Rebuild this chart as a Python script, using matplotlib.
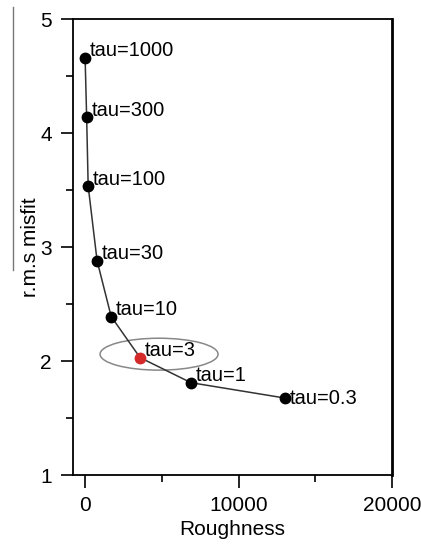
import numpy as np
import matplotlib
matplotlib.use('Agg')
import matplotlib.pyplot as plt
from matplotlib.patches import Ellipse
from matplotlib.lines import Line2D

plt.rcParams['font.family'] = ['Liberation Sans', 'DejaVu Sans']

# L-curve values
roughness = [0, 100, 200, 780, 1700, 3580, 6900, 13030]
misfit = [4.66, 4.14, 3.535, 2.88, 2.39, 2.03, 1.81, 1.675]
labels = ['tau=1000', 'tau=300', 'tau=100', 'tau=30', 'tau=10', 'tau=3', 'tau=1', 'tau=0.3']
chosen = 'tau=3'

fig = plt.figure(figsize=(4.21, 5.47), dpi=100)
ax = fig.add_axes([0.173, 0.1316, 0.758, 0.8336])

ax.plot(roughness, misfit, color='#333333', lw=1.1, zorder=2)
for x, y, lab in zip(roughness, misfit, labels):
    c = '#d42a2a' if lab == chosen else 'black'
    ax.plot(x, y, 'o', color=c, ms=7.5, zorder=3)
    dy = 0 if lab == labels[-1] else 7
    ax.annotate(lab, (x, y), xytext=(5, dy), textcoords='offset pixels',
                ha='left', va='center', fontsize=14.5)

# circle around the chosen value
ax.add_patch(Ellipse((4820, 2.06), 7690, 0.28, fill=False, edgecolor='#888888', lw=1.1))

ax.set_xlim(-800, 20000)
ax.set_ylim(1, 5)
ax.set_xticks([0, 10000, 20000])
ax.set_xticks([5000, 15000], minor=True)
ax.set_yticks([1, 2, 3, 4, 5])
ax.set_yticks([1.5, 2.5, 3.5, 4.5], minor=True)
ax.tick_params(which='major', direction='out', length=9, width=1.2, labelsize=15, pad=6)
ax.tick_params(which='minor', direction='out', length=5, width=1.2)
for s in ax.spines.values():
    s.set_linewidth(1.3)
ax.spines['right'].set_linewidth(2)

ax.set_xlabel('Roughness', fontsize=15, labelpad=4)
ax.set_ylabel('r.m.s misfit', fontsize=15, labelpad=0)

# stray vertical rule at the far left of the original
fig.add_artist(Line2D([13 / 421, 13 / 421], [1 - 7 / 547, 1 - 270 / 547],
                      color='#777777', lw=1))

fig.savefig('out.png', dpi=100)
